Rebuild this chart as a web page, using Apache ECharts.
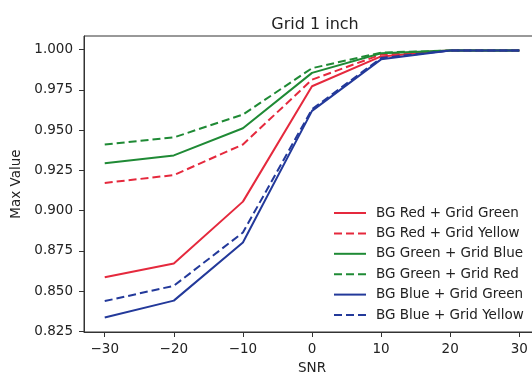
<!DOCTYPE html>
<html>
<head>
<meta charset="utf-8">
<script src="https://cdn.jsdelivr.net/npm/echarts@6/dist/echarts.min.js"></script>
<style>
  html, body { margin: 0; padding: 0; background: #fff; }
  #chart { width: 532px; height: 373px; }
</style>
</head>
<body>
<div id="chart"></div>
<script>
// SNR values on the x axis
const snrList = [-30, -20, -10, 0, 10, 20, 30];
const xTickList = [-30, -20, -10, 0, 10, 20, 30];
const yTickList = [0.825, 0.85, 0.875, 0.9, 0.925, 0.95, 0.975, 1.0];

// max value per curve
const redGreen = [0.8586, 0.8672, 0.9056, 0.9773, 0.9958, 0.9995, 0.9995];
const redYellow = [0.9172, 0.9221, 0.9411, 0.9814, 0.9970, 0.9995, 0.9995];
const greenBlue = [0.9294, 0.9343, 0.9512, 0.9856, 0.9978, 0.9995, 0.9995];
const greenRed = [0.9411, 0.9455, 0.9597, 0.9885, 0.9982, 0.9995, 0.9995];
const blueGreen = [0.8336, 0.8441, 0.8802, 0.9620, 0.9940, 0.9995, 0.9995];
const blueYellow = [0.8438, 0.8533, 0.8864, 0.9630, 0.9948, 0.9995, 0.9995];

const legendList = [
  'BG Red + Grid Green',
  'BG Red + Grid Yellow',
  'BG Green + Grid Blue',
  'BG Green + Grid Red',
  'BG Blue + Grid Green',
  'BG Blue + Grid Yellow'
];

const RED = '#e5293d';
const GREEN = '#1f8a35';
const BLUE = '#23399a';
const FONT = 'DejaVu Sans';

function makeLine(name, values, color, dashed) {
  return {
    name: name,
    type: 'line',
    data: snrList.map((x, i) => [x, values[i]]),
    symbol: 'none',
    lineStyle: { color: color, width: 2, type: dashed ? [8, 4] : 'solid' },
    itemStyle: { color: color }
  };
}

const chartDom = document.getElementById('chart');
const myChart = echarts.init(chartDom, null, { renderer: 'canvas' });

const option = {
  backgroundColor: '#ffffff',
  animation: false,
  title: {
    text: 'Grid 1 inch',
    left: 310,
    textAlign: 'center',
    top: 12,
    textStyle: { fontFamily: FONT, fontSize: 16, fontWeight: 'normal', color: '#222' }
  },
  legend: {
    data: legendList,
    orient: 'vertical',
    left: 333,
    top: 206,
    padding: 0,
    itemWidth: 32,
    itemHeight: 14,
    itemGap: 6.4,
    // hide the round marker, keep the line sample
    itemStyle: { opacity: 0 },
    textStyle: { fontFamily: FONT, fontSize: 13.5, color: '#222', padding: [0, 0, 0, 5] }
  },
  grid: {
    left: 84,
    top: 36,
    width: 456,
    height: 296,
    outerBoundsMode: 'none',
    show: true,
    borderColor: '#333',
    borderWidth: 1
  },
  xAxis: {
    type: 'value',
    min: -33,
    max: 33,
    name: 'SNR',
    nameLocation: 'middle',
    nameGap: 29,
    nameTextStyle: { fontFamily: FONT, fontSize: 13.5, color: '#222' },
    axisLine: { show: true, onZero: false, lineStyle: { color: '#333' } },
    axisTick: { show: true, length: 5, lineStyle: { color: '#333' }, customValues: xTickList },
    axisLabel: {
      customValues: xTickList,
      margin: 10,
      fontFamily: FONT,
      fontSize: 13.5,
      color: '#222',
      formatter: v => (v < 0 ? '\u2212' + Math.abs(v) : String(v))
    },
    splitLine: { show: false }
  },
  yAxis: {
    type: 'value',
    min: 0.8246,
    max: 1.0085,
    name: 'Max Value',
    nameLocation: 'middle',
    nameGap: 56,
    nameTextStyle: { fontFamily: FONT, fontSize: 13.5, color: '#222' },
    axisLine: { show: true, onZero: false, lineStyle: { color: '#333' } },
    axisTick: { show: true, length: 5, lineStyle: { color: '#333' }, customValues: yTickList },
    axisLabel: {
      customValues: yTickList,
      margin: 11,
      fontFamily: FONT,
      fontSize: 13.5,
      color: '#222',
      formatter: v => v.toFixed(3)
    },
    splitLine: { show: false }
  },
  series: [
    makeLine(legendList[0], redGreen, RED, false),
    makeLine(legendList[1], redYellow, RED, true),
    makeLine(legendList[2], greenBlue, GREEN, false),
    makeLine(legendList[3], greenRed, GREEN, true),
    makeLine(legendList[4], blueGreen, BLUE, false),
    makeLine(legendList[5], blueYellow, BLUE, true)
  ]
};

option && myChart.setOption(option);
</script>
</body>
</html>
